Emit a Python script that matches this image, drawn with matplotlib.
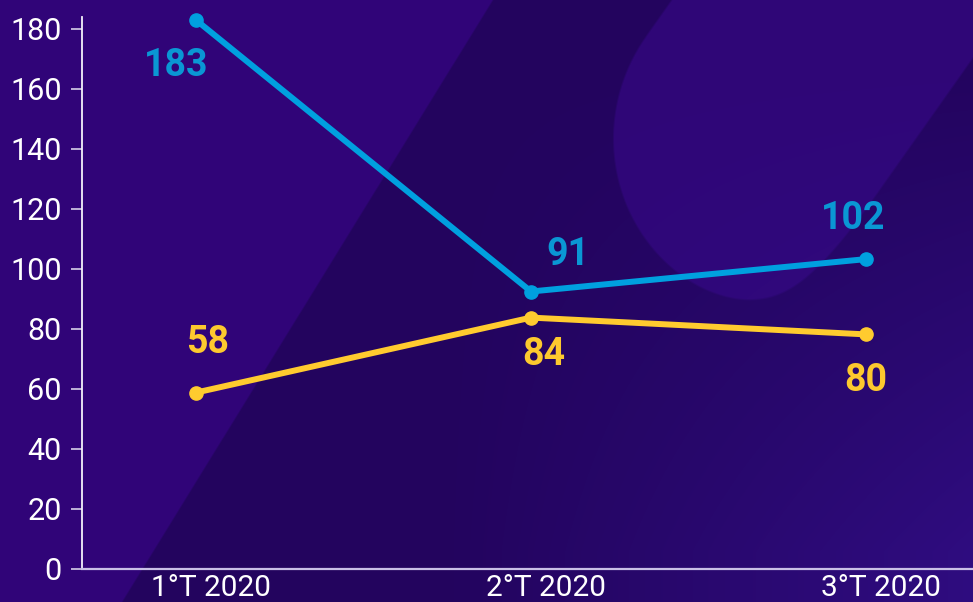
import numpy as np
import matplotlib
matplotlib.use("Agg")
import matplotlib.pyplot as plt
from matplotlib.transforms import ScaledTranslation

# ---- data ----
categories = ["1°T 2020", "2°T 2020", "3°T 2020"]
blue_values = [183, 92.5, 103.3]
blue_labels = ["183", "91", "102"]
yellow_values = [58.8, 83.8, 78.2]
yellow_labels = ["58", "84", "80"]
y_ticks = [0, 20, 40, 60, 80, 100, 120, 140, 160, 180]

# label offsets (pixels, label centre relative to point)
blue_offsets = [(-20, -43), (37, 39.5), (-13, 43)]
yellow_offsets = [(12, 52.6), (13, -34.4), (0, -43.6)]

plt.rcParams['font.family'] = ['Roboto', 'DejaVu Sans']

W, H = 973, 602
fig = plt.figure(figsize=(W / 100, H / 100), dpi=100)

# ---- decorative background ----
bg = fig.add_axes([0, 0, 1, 1])
bg.axis('off')
Y, X = np.mgrid[0:H, 0:W] + 0.5
base = np.array([48, 4, 120]) / 255
dark = np.array([35, 4, 94]) / 255
light = np.array([47, 6, 119]) / 255
br = np.array([52, 16, 142]) / 255

# dark diagonal band (soft edge)
sd_band = (493 - 0.616 * Y) - X
a_band = np.clip(0.5 - sd_band / 2.0, 0, 1)[..., None]
img = base * (1 - a_band) + dark * a_band

# rounded light shape in the upper right
cx, cy, r = 792, 140, 182
dx, dy = X - cx, Y - cy
d = np.array([0.577, -0.816])
nrm = np.array([0.816, 0.577])
proj = dx * d[0] + dy * d[1]
perp = np.abs(dx * nrm[0] + dy * nrm[1])
sd_pill = np.where(proj >= 0, perp - r, np.sqrt(dx ** 2 + dy ** 2) - r)
sd_half = (nrm[0] * X + nrm[1] * Y) - (nrm[0] * 973 + nrm[1] * 77)
k = 60.0
sd_shape = 0.5 * (sd_pill + sd_half) + 0.5 * np.sqrt((sd_pill - sd_half) ** 2 + k * k)
a_shape = np.clip(0.5 - sd_shape / 2.0, 0, 1)[..., None]
img = img * (1 - a_shape) + light * a_shape

# lighter glow toward the bottom right
t = (np.clip((X / W - 0.45) / 0.55, 0, 1) * np.clip(Y / H * 1.2 - 0.1, 0, 1))[..., None]
img = img * (1 - t * 0.7) + br * (t * 0.7)
bg.imshow(np.clip(img, 0, 1), extent=[0, W, H, 0], aspect='auto', interpolation='bilinear')
bg.set_xlim(0, W)
bg.set_ylim(H, 0)

# ---- main chart ----
ax = fig.add_axes([82 / W, 33 / H, (W - 82) / W, 552 / H])
ax.patch.set_alpha(0)
x = np.arange(len(categories))

blue_line = '#00a0df'
blue_text = '#0a97d4'
yellow_line = '#ffcb2f'
yellow_text = '#fdc92e'

ax.plot(x, blue_values, color=blue_line, lw=4.3, marker='o', ms=9.5,
        solid_capstyle='round', solid_joinstyle='round', zorder=3, clip_on=False)
ax.plot(x, yellow_values, color=yellow_line, lw=4.3, marker='o', ms=9.5,
        solid_capstyle='round', solid_joinstyle='round', zorder=3, clip_on=False)

for xi, v, lab, (ox, oy) in zip(x, blue_values, blue_labels, blue_offsets):
    ax.annotate(lab, (xi, v), xytext=(ox, oy - 13.3), textcoords='offset pixels',
                ha='center', va='baseline', fontsize=27, fontweight='bold',
                color=blue_text, zorder=4, annotation_clip=False)
for xi, v, lab, (ox, oy) in zip(x, yellow_values, yellow_labels, yellow_offsets):
    ax.annotate(lab, (xi, v), xytext=(ox, oy - 13.3), textcoords='offset pixels',
                ha='center', va='baseline', fontsize=27, fontweight='bold',
                color=yellow_text, zorder=4, annotation_clip=False)

ax.set_xlim(-0.340, 2.319)
ax.set_ylim(0, 184)

for s in ['top', 'right']:
    ax.spines[s].set_visible(False)
ax.spines['left'].set_color('#f4f2fa')
ax.spines['left'].set_linewidth(1.3)
ax.spines['bottom'].set_color('#c9c0e6')
ax.spines['bottom'].set_linewidth(1.6)

ax.set_yticks(y_ticks)
ax.tick_params(axis='y', length=8, width=1.3, color='#c8c0e0', pad=6.5,
               labelsize=22, labelcolor='white')
ax.set_xticks(x, categories)
ax.tick_params(axis='x', length=0, pad=3.5, labelsize=21.5, labelcolor='white')
for lbl in ax.get_xticklabels():
    lbl.set_transform(lbl.get_transform() + ScaledTranslation(15 / 100, 0, fig.dpi_scale_trans))

fig.savefig('out.png', dpi=100)
